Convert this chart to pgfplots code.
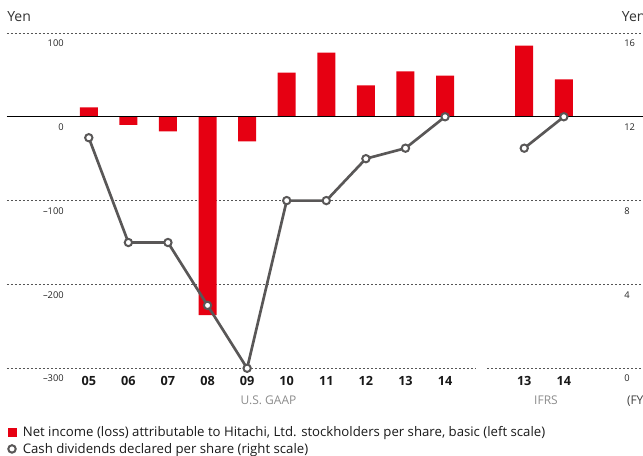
\documentclass[border=0pt]{standalone}
\usepackage{pgfplots}
\pgfplotsset{compat=1.18}
\usepackage{pgfplotstable}
\usepackage{fontspec}
\setmainfont{Open Sans}
\definecolor{hitred}{HTML}{E60012}
\definecolor{divgray}{HTML}{595757}
\definecolor{gridgray}{HTML}{555555}

% net income per share (yen), positions 0-9 = US GAAP FY05-14, 11-12 = IFRS FY13-14
\pgfplotstableread{
pos eps
0 11.2
1 -9.8
2 -17.5
3 -236.5
4 -29.3
5 52.8
6 76.5
7 37.3
8 54.0
9 49.2
11 85.0
12 44.6
}\epstable

% cash dividends per share (yen)
\pgfplotstableread{
pos div
0 11
1 6
2 6
3 3
4 0
5 8
6 8
7 10
8 10.5
9 12
10 nan
11 10.5
12 12
}\divtable

\begin{document}
\begin{tikzpicture}
\begin{axis}[
  at={(0pt,0pt)}, anchor=south west,
  scale only axis, width=477pt, height=251.5pt,
  xmin=-2.066, xmax=14.0, ymin=-300, ymax=100,
  ybar, bar width=13.5pt,
  axis line style={draw=none}, tick style={draw=none},
  ytick={-300,-200,-100,0,100},
  yticklabels={–300,–200,–100,0,100},
  yticklabel style={font=\fontsize{7}{8}\selectfont, text=black!85, anchor=north east, inner sep=0pt, xshift=42.75pt, yshift=-5pt},
  ymajorgrids, grid style={gridgray, line width=0.6pt, dash pattern=on 1.5pt off 1.5pt},
  xtick={0,1,2,3,4,5,6,7,8,9,11,12},
  xticklabels={05,06,07,08,09,10,11,12,13,14,13,14},
  xticklabel style={font=\fontsize{9.5}{11}\selectfont\bfseries, text=black!90, anchor=base, inner sep=0pt, yshift=-8.6pt},
  clip=false,
]
\addplot[fill=hitred, draw=none] table[x=pos, y=eps]{\epstable};
\draw[black, line width=1.1pt] (axis cs:-2.066,0) -- (axis cs:14,0);
\draw[white, line width=2pt] (axis cs:9.78,-300) -- (axis cs:10.06,-300);
\end{axis}

\begin{axis}[
  at={(0pt,0pt)}, anchor=south west,
  scale only axis, width=477pt, height=251.5pt,
  xmin=-2.066, xmax=14.0, ymin=0, ymax=16,
  axis line style={draw=none}, tick style={draw=none},
  xtick=\empty,
  ytick={0,4,8,12,16},
  yticklabel pos=right,
  yticklabel style={font=\fontsize{7}{8}\selectfont, text=black!85, anchor=north west, inner sep=0pt, xshift=-14.25pt, yshift=-5pt},
  /pgf/number format/assume math mode=true,
  unbounded coords=jump,
  clip=false,
  legend cell align=left,
  legend style={at={(0.0,-0.175)}, anchor=north west, draw=none, fill=none,
    inner sep=0pt, column sep=4.5pt, row sep=3.6pt,
    font=\fontsize{9.9}{11}\selectfont, text=black!90,
    nodes={inner sep=0pt, text height=7pt, text depth=2pt}},
]
\addlegendimage{legend image code/.code={\fill[hitred] (0.6pt,-2.6pt) rectangle (6.9pt,3.7pt);}}
\addlegendentry{Net income (loss) attributable to Hitachi, Ltd. stockholders per share, basic (left scale)}
\addplot[divgray, line width=2pt, mark=*, mark size=2.75pt,
  mark options={fill=white, draw=divgray, line width=1.5pt},
  legend image code/.code={\draw[divgray, line width=1.5pt, fill=white] (3.5pt,0.8pt) circle (2.8pt);}]
  table[x=pos, y=div]{\divtable};
\addlegendentry{Cash dividends declared per share (right scale)}
\end{axis}

\node[anchor=base west, font=\fontsize{10.5}{12}\selectfont, text=black!80, inner sep=0pt] at (0pt,260pt) {Yen};
\node[anchor=base west, font=\fontsize{10.5}{12}\selectfont, text=black!80, inner sep=0pt] at (461pt,260pt) {Yen};
\node[anchor=base, font=\fontsize{9}{10}\selectfont, text=black!45, inner sep=0pt] at (196.1pt,-27pt) {U.S. GAAP};
\node[anchor=base, font=\fontsize{9}{10}\selectfont, text=black!45, inner sep=0pt] at (404.25pt,-27pt) {IFRS};
\node[anchor=base west, font=\fontsize{9}{10}\selectfont, text=black!75, inner sep=0pt] at (464.8pt,-27pt) {(FY)};

\pgfresetboundingbox
\path (-5.25pt,-65.8pt) rectangle (477pt,276.2pt);
\end{tikzpicture}
\end{document}
